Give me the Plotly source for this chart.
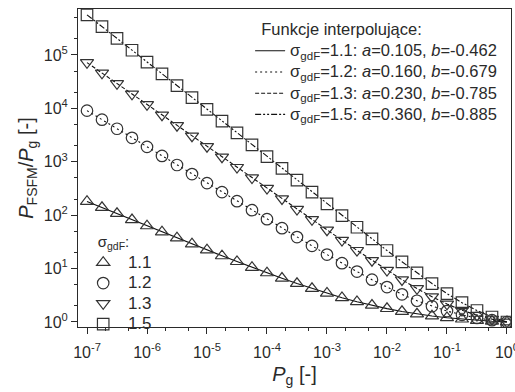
import plotly.graph_objects as go

# Pg grid (4 points per decade from 1e-7 to 1)
pg = [1e-7, 1.778e-7, 3.162e-7, 5.623e-7,
      1e-6, 1.778e-6, 3.162e-6, 5.623e-6,
      1e-5, 1.778e-5, 3.162e-5, 5.623e-5,
      1e-4, 1.778e-4, 3.162e-4, 5.623e-4,
      1e-3, 1.778e-3, 3.162e-3, 5.623e-3,
      1e-2, 1.778e-2, 3.162e-2, 5.623e-2,
      1e-1, 1.778e-1, 3.162e-1, 5.623e-1, 1.0]

# P_FSFM / P_g values
s11 = [181, 139, 107, 82, 63, 48.5, 37.4, 28.9, 22.3, 17.3, 13.5, 10.5, 8.3,
       6.57, 5.24, 4.23, 3.45, 2.85, 2.40, 2.05, 1.78, 1.57, 1.41, 1.29, 1.20,
       1.13, 1.07, 1.03, 1.0]
s12 = [9060, 6130, 4150, 2806, 1899, 1284, 869, 588, 398, 270, 183, 124, 84,
       57.1, 38.9, 26.6, 18.3, 12.6, 8.8, 6.2, 4.5, 3.3, 2.5, 1.97, 1.60,
       1.36, 1.19, 1.08, 1.0]
s13 = [71900, 45750, 29120, 18540, 11800, 7510, 4777, 3041, 1935, 1232, 785,
       500, 318, 203, 129, 82.6, 52.9, 33.9, 21.9, 14.2, 9.3, 6.2, 4.23, 2.97,
       2.17, 1.66, 1.34, 1.13, 1.0]
s15 = [564000, 339000, 203600, 122400, 73500, 44170, 26540, 15940, 9580,
       5756, 3458, 2078, 1248, 751, 451, 271, 163, 98.4, 59.4, 35.9, 21.8,
       13.4, 8.3, 5.24, 3.40, 2.30, 1.64, 1.24, 1.0]

series_vals = [s11, s12, s13, s15]
sigma_labels = ["1.1", "1.2", "1.3", "1.5"]
fit_a = ["0.105", "0.160", "0.230", "0.360"]
fit_b = ["-0.462", "-0.679", "-0.785", "-0.885"]
symbols = ["triangle-up-open", "circle-open", "triangle-down-open", "square-open"]
dashes = ["solid", "2px,3px", "4px,2px", "6px,2px,2px,2px,2px,2px"]

x_tickvals = [1e-7, 1e-6, 1e-5, 1e-4, 1e-3, 1e-2, 1e-1, 1]
x_ticktext = ["10<sup>-7</sup>", "10<sup>-6</sup>", "10<sup>-5</sup>", "10<sup>-4</sup>",
              "10<sup>-3</sup>", "10<sup>-2</sup>", "10<sup>-1</sup>", "10<sup>0</sup>"]
y_tickvals = [1, 10, 100, 1e3, 1e4, 1e5]
y_ticktext = ["10<sup>0</sup>", "10<sup>1</sup>", "10<sup>2</sup>",
              "10<sup>3</sup>", "10<sup>4</sup>", "10<sup>5</sup>"]

ink = "#2a2a2a"
fig = go.Figure()

for vals, lab, a, b, dsh in zip(series_vals, sigma_labels, fit_a, fit_b, dashes):
    fig.add_trace(go.Scatter(
        x=pg, y=vals, mode="lines",
        line=dict(color="#111111", width=1.1, dash=dsh),
        name=(f"<span style='font-size:16.5px'>σ<sub>gdF</sub>={lab}: "
              f"<i>a</i>={a}, <i>b</i>={b}</span>"),
        legend="legend",
    ))

for vals, lab, sym in zip(series_vals, sigma_labels, symbols):
    fig.add_trace(go.Scatter(
        x=pg, y=vals, mode="markers",
        marker=dict(symbol=sym, size=11.5, color="#333333",
                    line=dict(color="#333333", width=1.2)),
        name=f"<span style='font-size:17px'> {lab}</span>",
        legend="legend2",
    ))

font_main = "Liberation Sans, Arial, sans-serif"

fig.update_layout(
    width=515, height=392,
    margin=dict(l=78, r=4, t=9, b=65, autoexpand=False),
    paper_bgcolor="white", plot_bgcolor="white",
    font=dict(family=font_main, size=15, color=ink),
    showlegend=True,
    legend=dict(
        x=0.3975, xanchor="left", y=0.985, yanchor="top",
        bgcolor="rgba(0,0,0,0)",
        title=dict(text="&nbsp;&nbsp;Funkcje interpolujące:",
                   font=dict(size=16.5, color=ink)),
        font=dict(size=14, color=ink),
        tracegroupgap=0, itemwidth=30,
    ),
    legend2=dict(
        x=0.012, xanchor="left", y=-0.04, yanchor="bottom",
        bgcolor="rgba(0,0,0,0)",
        title=dict(text="&nbsp;&nbsp;&nbsp;σ<sub>gdF</sub>:", font=dict(size=15, color=ink)),
        font=dict(size=13.5, color=ink),
        tracegroupgap=0, itemwidth=30,
    ),
    xaxis=dict(
        type="log", range=[-7.15, 0.067],
        tickvals=x_tickvals, ticktext=x_ticktext,
        ticklabeloverflow="allow", automargin=False,
        ticklabelstandoff=5,
        showline=True, linecolor=ink, linewidth=1, mirror=True,
        ticks="outside", ticklen=6, tickcolor=ink,
        minor=dict(ticks="outside", ticklen=3, tickcolor=ink, showgrid=False),
        showgrid=False, zeroline=False,
        tickfont=dict(size=16, color=ink),
        title=dict(text="<i>P</i><sub>g</sub> [-]", font=dict(size=20, color=ink),
                   standoff=6),
    ),
    yaxis=dict(
        type="log", range=[-0.094, 5.86],
        tickvals=y_tickvals, ticktext=y_ticktext,
        automargin=False,
        showline=True, linecolor=ink, linewidth=1, mirror=True,
        ticks="outside", ticklen=6, tickcolor=ink,
        minor=dict(ticks="outside", ticklen=3, tickcolor=ink, showgrid=False),
        showgrid=False, zeroline=False,
        tickfont=dict(size=16, color=ink),
        title=dict(text="<i>P</i><sub>FSFM</sub>/<i>P</i><sub>g</sub> [-]",
                   font=dict(size=20, color=ink), standoff=4),
    ),
)

fig.write_html("out.html",
               config={"displayModeBar": False},
               post_script="document.body.style.margin='0';document.body.style.padding='0';")
